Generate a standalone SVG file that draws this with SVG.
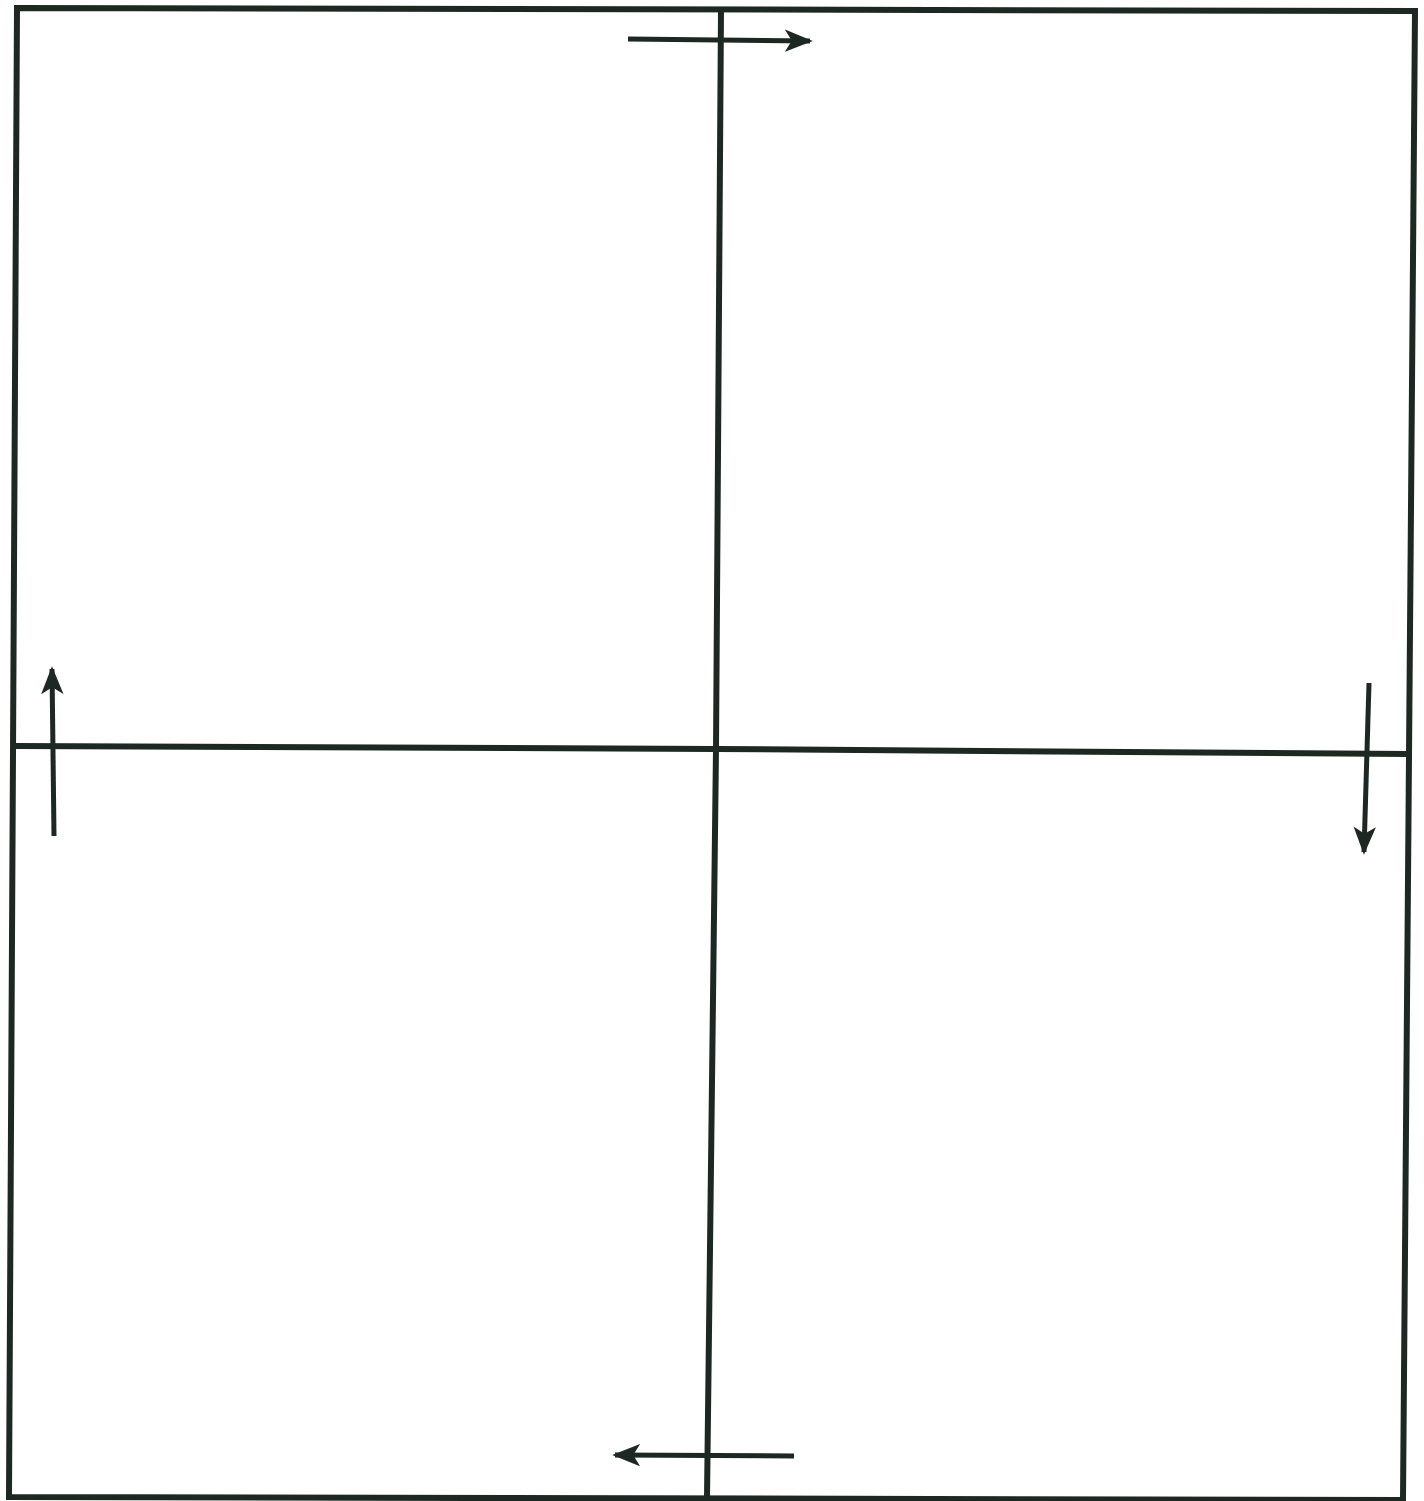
<svg xmlns="http://www.w3.org/2000/svg" width="1424" height="1501" viewBox="0 0 1424 1501">
<style>
.ln{fill:none;stroke:#1e2823;stroke-width:6;stroke-linecap:butt;stroke-linejoin:miter}
.ar{fill:none;stroke:#1e2823;stroke-width:5;marker-end:url(#ah)}
</style>
<defs>
<marker id="ah" viewBox="0 0 10 8" refX="9" refY="4" markerWidth="5.6" markerHeight="4.5" markerUnits="strokeWidth" orient="auto">
<path d="M0,0 L10,4 L0,8 L2.5,4 Z" fill="#1e2823"/>
</marker>
</defs>
<rect width="1424" height="1501" fill="#ffffff"/>
<g id="frame">
<polygon class="ln" points="17,8 1415,11 1403,1500 9,1497"/>
</g>
<g id="dividers">
<polyline class="ln" points="721,9 716,749 707,1498"/>
<polyline class="ln" points="14,746 716,749 1409,754"/>
</g>
<g id="connectors">
<line class="ar" x1="628" y1="39" x2="810" y2="41"/>
<line class="ar" x1="54" y1="836" x2="52" y2="669"/>
<line class="ar" x1="1369" y1="683" x2="1364" y2="852"/>
<line class="ar" x1="794" y1="1456" x2="615" y2="1455"/>
</g>
</svg>
